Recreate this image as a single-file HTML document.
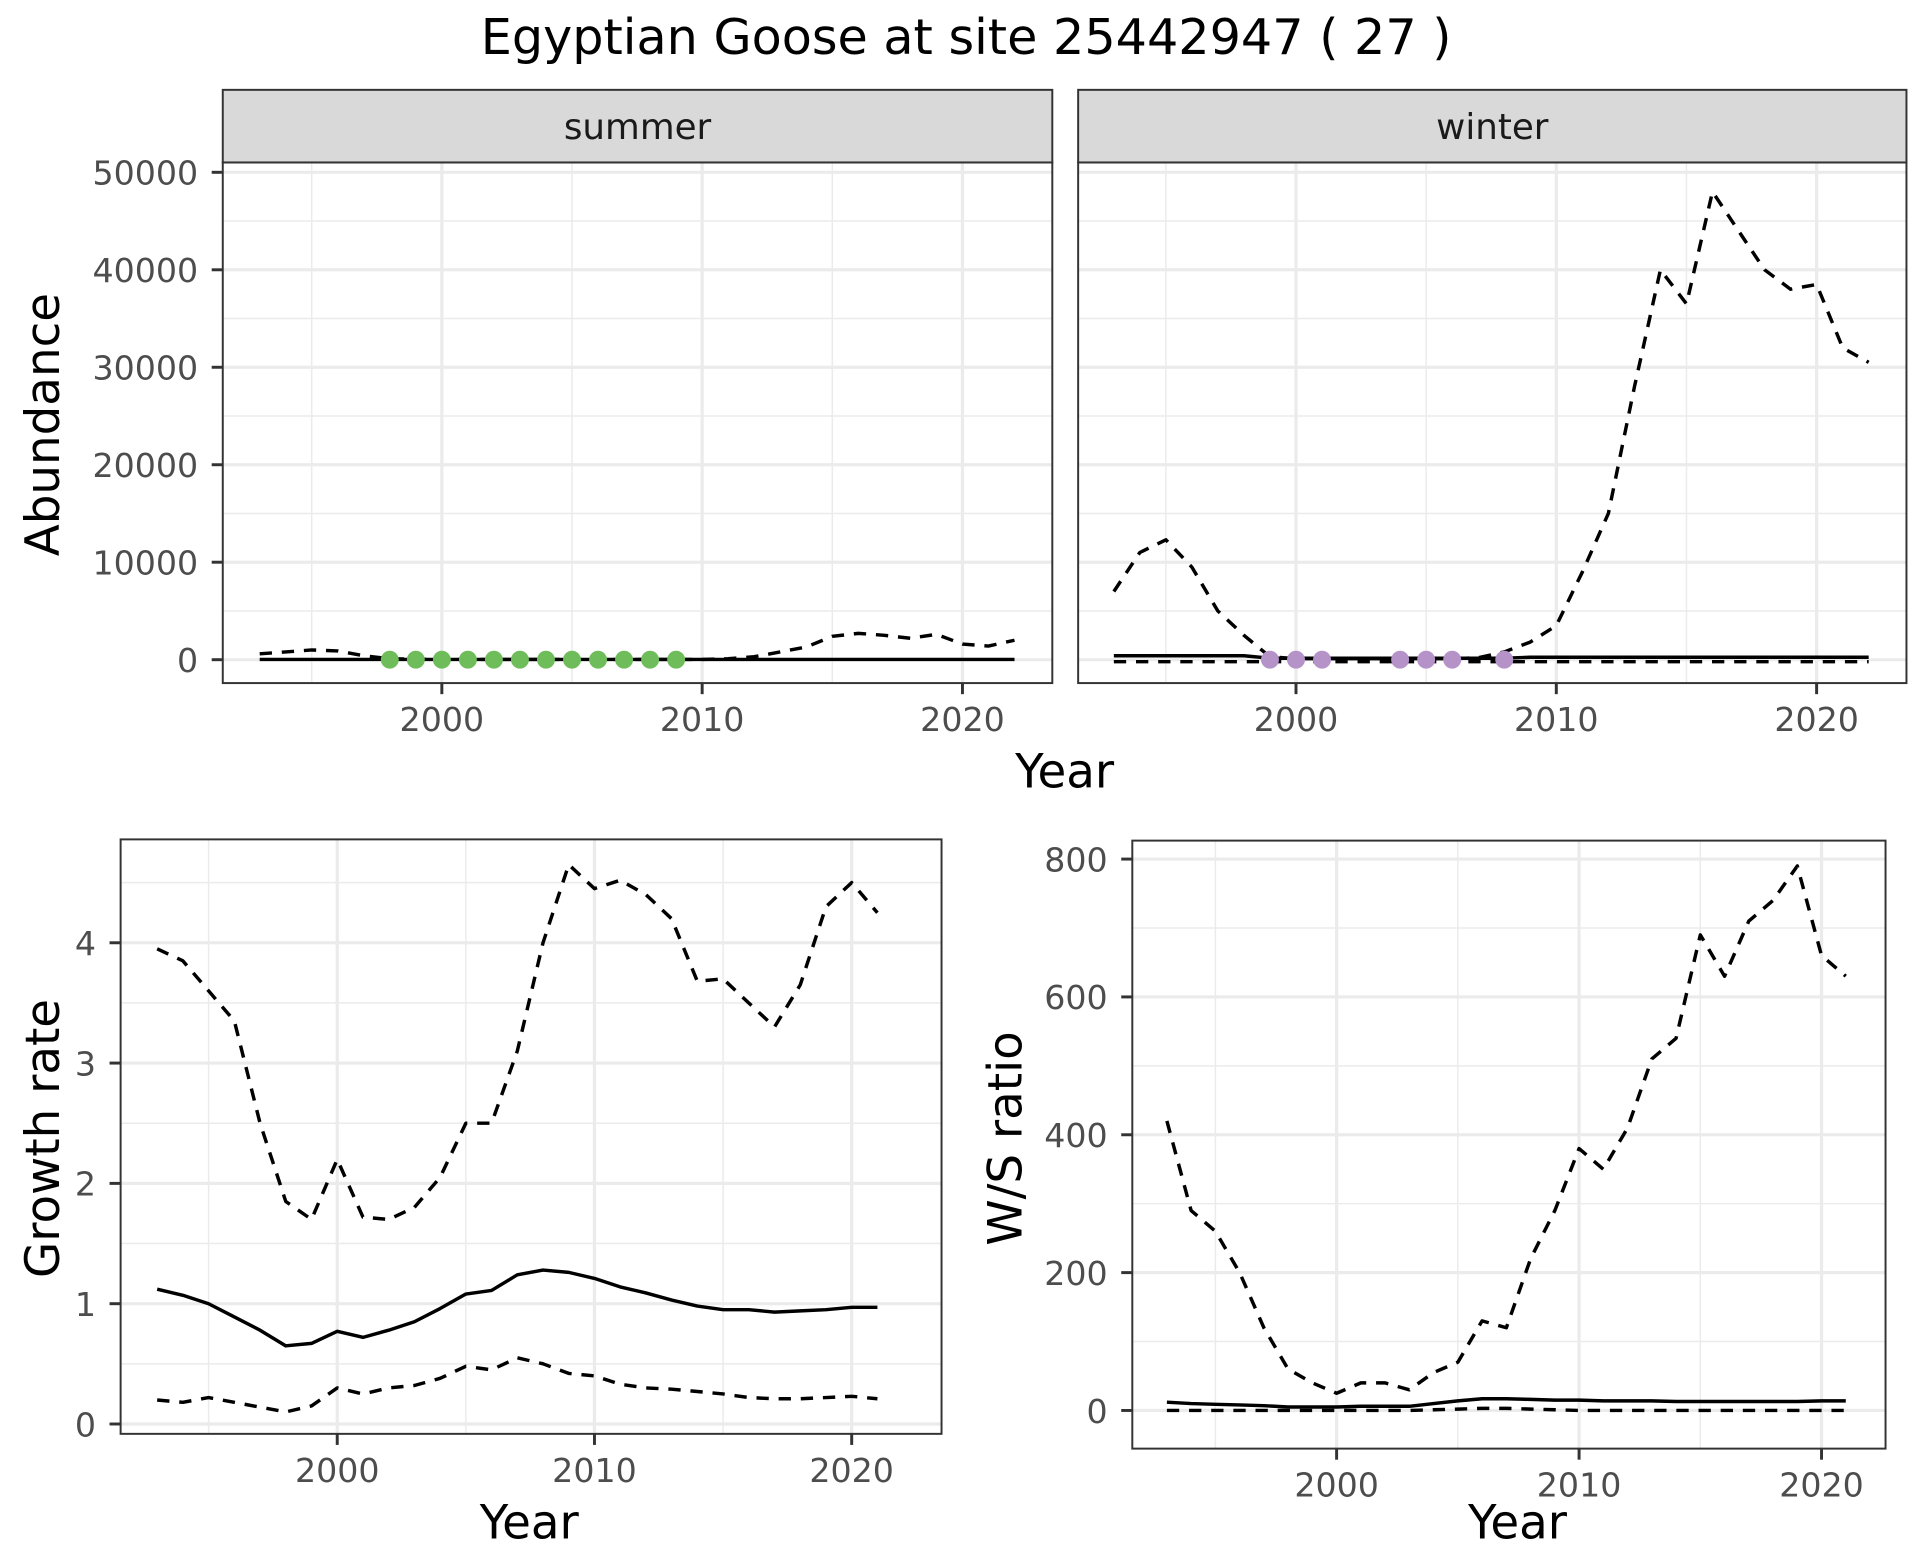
<!DOCTYPE html>
<html><head><meta charset="utf-8"><style>
html,body{margin:0;padding:0;background:#fff}
svg{display:block}
text{font-family:"DejaVu Sans","Liberation Sans",sans-serif}
</style></head><body>
<svg id="s" width="1920" height="1560" viewBox="0 0 1560 1267.5" xmlns="http://www.w3.org/2000/svg">
<rect width="1560" height="1267.5" fill="#fff"/>
<text x="785" y="44" font-size="40" text-anchor="middle" fill="#000">Egyptian Goose at site 25442947 ( 27 )</text>
<g id="g"></g>
</svg>
<script>
var g=document.getElementById('g'),out='';
function L(x1,y1,x2,y2,c,w,extra){out+='<line x1="'+x1+'" y1="'+y1+'" x2="'+x2+'" y2="'+y2+'" stroke="'+c+'" stroke-width="'+w+'" '+(extra||'')+'/>';}
function T(x,y,t,sz,anc,fill,extra){out+='<text x="'+x+'" y="'+y+'" font-size="'+sz+'" text-anchor="'+anc+'" fill="'+fill+'" '+(extra||'')+'>'+t+'</text>';}
function panel(p){
 p.yminor.forEach(function(v){L(p.x0,p.yf(v),p.x1,p.yf(v),'#ebebeb',1.2);});
 p.xminor.forEach(function(v){L(p.xf(v),p.y0,p.xf(v),p.y1,'#ebebeb',1.2);});
 p.ymajor.forEach(function(v){L(p.x0,p.yf(v),p.x1,p.yf(v),'#ebebeb',2.6);});
 p.xmajor.forEach(function(v){L(p.xf(v),p.y0,p.xf(v),p.y1,'#ebebeb',2.6);});
}
function frame(p,yt,xt){
 out+='<rect x="'+p.x0+'" y="'+p.y0+'" width="'+(p.x1-p.x0)+'" height="'+(p.y1-p.y0)+'" fill="none" stroke="#333" stroke-width="1.6"/>';
 if(yt) p.ymajor.forEach(function(v){var y=p.yf(v);L(p.x0-9,y,p.x0,y,'#333',2.4);T(p.x0-20,y+10,v,27,'end','#4d4d4d');});
 if(xt) p.xmajor.forEach(function(v){var x=p.xf(v);L(x,p.y1,x,p.y1+9,'#333',2.4);T(x,p.y1+39,v,27,'middle','#4d4d4d');});
}
function line(p,y0,vals,dash){
 var d='';vals.forEach(function(v,i){d+=(i?'L':'M')+p.xf(y0+i).toFixed(1)+','+p.yf(v).toFixed(1);});
 out+='<path d="'+d+'" fill="none" stroke="#000" stroke-width="2.8" stroke-linejoin="round" '+(dash?'stroke-dasharray="10,8"':'')+'/>';
}
function rng(a,b,s){var r=[];for(var v=a;v<=b+1e-9;v+=s)r.push(v);return r;}
var yfA=function(v){return 536-v*396/50000;};
var S={x0:181,x1:855,y0:132,y1:555,xf:function(y){return 359+(y-2000)*21.15;},yf:yfA,xmajor:[2000,2010,2020],xminor:[1995,2005,2015],ymajor:rng(0,50000,10000),yminor:rng(5000,45000,10000)};
var W={x0:876,x1:1549,y0:132,y1:555,xf:function(y){return 1053+(y-2000)*21.15;},yf:yfA,xmajor:[2000,2010,2020],xminor:[1995,2005,2015],ymajor:rng(0,50000,10000),yminor:rng(5000,45000,10000)};
panel(S);panel(W);
[S,W].forEach(function(p,i){out+='<rect x="'+p.x0+'" y="73" width="'+(p.x1-p.x0)+'" height="59" fill="#d9d9d9" stroke="#333" stroke-width="1.6"/>';T((p.x0+p.x1)/2,113,i?'winter':'summer',29,'middle','#1a1a1a');});
var sumD=[600,800,1000,900,400,100,50,30,30,30,30,30,30,30,30,30,30,30,100,300,800,1300,2400,2700,2500,2200,2600,1600,1400,2000];
var sumS=[];for(var i=0;i<30;i++)sumS.push(30);
line(S,1993,sumD,true);line(S,1993,sumS,false);
var winU=[7000,11000,12300,9500,5000,2500,300,100,100,100,100,100,100,100,200,800,1800,3500,9000,15000,28000,40000,36500,48000,44000,40000,38000,38500,32000,30500];
var winL=[];var winS=[];for(var i=0;i<30;i++){winL.push(-200);winS.push(i<6?400:(i<16?150:250));}
line(W,1993,winU,true);
line(W,1993,winL,true);line(W,1993,winS,false);
rng(1998,2009,1).forEach(function(y){out+='<circle cx="'+S.xf(y)+'" cy="536" r="7.3" fill="#6fbd5a"/>';});
[1999,2000,2001,2004,2005,2006,2008].forEach(function(y){out+='<circle cx="'+W.xf(y)+'" cy="536" r="7.3" fill="#b592c8"/>';});
frame(S,true,true);frame(W,false,true);
T(865,640,'Year',38,'middle','#000');
T(48,345,'Abundance',38,'middle','#000','transform="rotate(-90 48 345)"');
var G={x0:98,x1:765,y0:682,y1:1165,xf:function(y){return 274+(y-2000)*20.9;},yf:function(v){return 1157-v*97.75;},xmajor:[2000,2010,2020],xminor:[1995,2005,2015],ymajor:[0,1,2,3,4],yminor:[0.5,1.5,2.5,3.5,4.5]};
panel(G);
line(G,1993,[3.95,3.85,3.6,3.35,2.5,1.85,1.7,2.2,1.72,1.7,1.8,2.05,2.5,2.5,3.1,4.0,4.65,4.45,4.52,4.4,4.2,3.68,3.7,3.5,3.3,3.65,4.3,4.5,4.25],true);
line(G,1993,[1.12,1.07,1.0,0.89,0.78,0.65,0.67,0.77,0.72,0.78,0.85,0.96,1.08,1.11,1.24,1.28,1.26,1.21,1.14,1.09,1.03,0.98,0.95,0.95,0.93,0.94,0.95,0.97,0.97],false);
line(G,1993,[0.2,0.18,0.22,0.18,0.14,0.1,0.15,0.3,0.25,0.3,0.32,0.38,0.48,0.45,0.55,0.5,0.42,0.4,0.33,0.3,0.29,0.27,0.25,0.22,0.21,0.21,0.22,0.23,0.21],true);
frame(G,true,true);
T(430,1250,'Year',38,'middle','#000');
T(48,925,'Growth rate',38,'middle','#000','transform="rotate(-90 48 925)"');
var R={x0:920,x1:1532,y0:683,y1:1177,xf:function(y){return 1086+(y-2000)*19.7;},yf:function(v){return 1146-v*0.56;},xmajor:[2000,2010,2020],xminor:[1995,2005,2015],ymajor:[0,200,400,600,800],yminor:[100,300,500,700]};
panel(R);
line(R,1993,[420,290,260,200,120,60,40,25,40,40,30,55,70,130,120,220,290,380,350,410,510,540,690,630,710,740,790,660,630],true);
line(R,1993,[12,10,9,8,7,5,5,5,6,6,6,10,14,17,17,16,15,15,14,14,14,13,13,13,13,13,13,14,14],false);
line(R,1993,[0,0,0,0,0,0,0,0,0,0,0,1,2,3,3,2,1,0,0,0,0,0,0,0,0,0,0,0,0],true);
frame(R,true,true);
T(1233,1250,'Year',38,'middle','#000');
T(830,925,'W/S ratio',38,'middle','#000','transform="rotate(-90 830 925)"');
g.innerHTML=out;
</script>
</body></html>
